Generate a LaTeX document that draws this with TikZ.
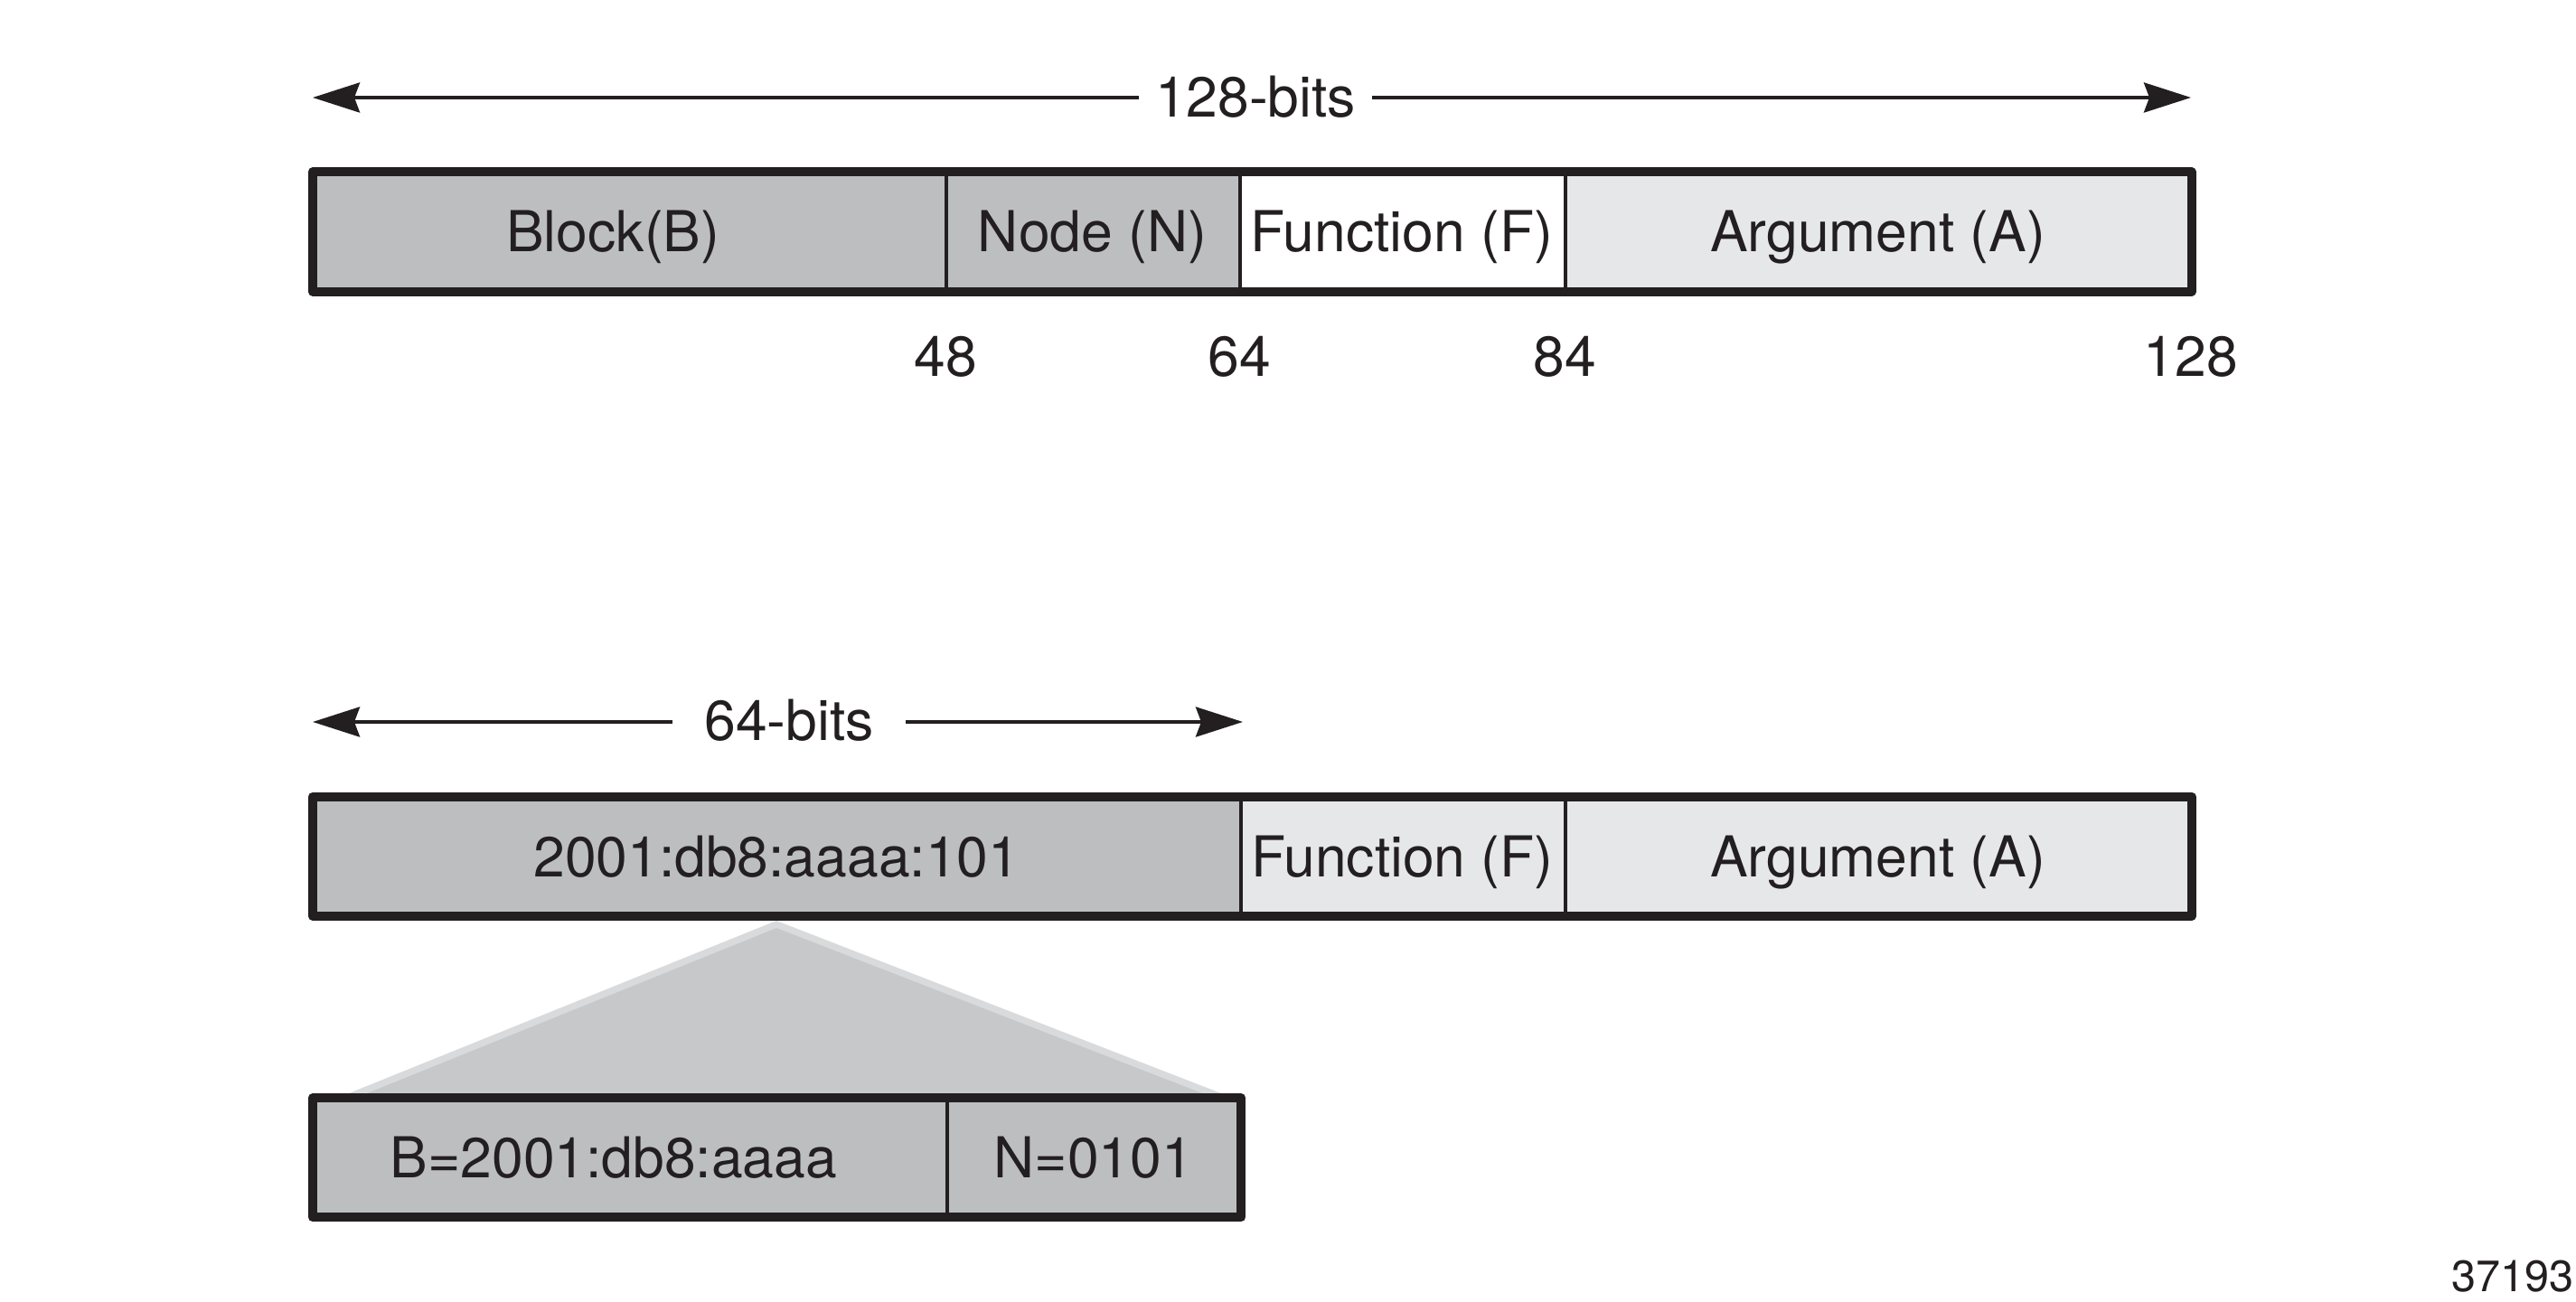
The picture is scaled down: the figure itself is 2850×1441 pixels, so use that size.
\documentclass[tikz,border=0pt]{standalone}
\usepackage{fontspec}
\setmainfont{TeX Gyre Heros}
\usetikzlibrary{arrows.meta}
\definecolor{ink}{HTML}{231F20}
\definecolor{blockgray}{HTML}{BCBEC0}
\definecolor{lightgray}{HTML}{E6E7E8}
\definecolor{trifill}{HTML}{C7C8CA}
\definecolor{triedge}{HTML}{D9DADB}
\tikzset{
  cell/.style={draw=none, inner sep=0pt, minimum height=32.625pt,
    text height=11.2pt, text depth=0pt, text=ink,
    font=\fontsize{15.6}{18}\selectfont},
  frame/.style={draw=ink, line width=2.5pt, line join=round},
  divider/.style={draw=ink, line width=1.1pt},
  num/.style={anchor=base, inner sep=0pt, text=ink, font=\fontsize{15.6}{18}\selectfont},
  dimarrow/.style={draw=ink, line width=1pt,
    {Stealth[length=13pt,width=8.25pt,inset=1.5pt]}-{Stealth[length=13pt,width=8.25pt,inset=1.5pt]}},
  bitlabel/.style={fill=white, inner sep=0pt, minimum width=64.5pt,
    text height=11.2pt, text depth=0pt, text=ink, font=\fontsize{15.6}{18}\selectfont},
  triangle/.style={fill=trifill, draw=triedge, line width=1.85pt, line join=miter}
}
\begin{document}
\begin{tikzpicture}[x=0.25pt, y=-0.25pt]
\useasboundingbox (0,0) rectangle (2850,1441);

% ---------- top: 128 bits ----------
\coordinate (tl) at (346,108);
\coordinate (tr) at (2424,108);
\draw[dimarrow] (tl) -- (tr);
\node[bitlabel] (l128) at (1389,107) {128-bits};

\node[cell, fill=blockgray, minimum width=174.875pt] (B) at (696.25,256.5) {Block(B)\hspace*{9pt}};
\node[cell, fill=blockgray, minimum width=81.25pt] (N) at (1208.5,256.5) {Node (N)};
\node[cell, fill=white, minimum width=90pt] (F) at (1551,256.5) {Function (F)};
\node[cell, fill=lightgray, minimum width=173.25pt] (A) at (2077.5,256.5) {Argument (A)};
\draw[divider] (B.north east) -- (B.south east);
\draw[divider] (N.north east) -- (N.south east);
\draw[divider] (F.north east) -- (F.south east);
\draw[frame] (B.north west) rectangle (A.south east);

\node[num] (n48) at (1046,417) {48};
\node[num] (n64) at (1371,417) {64};
\node[num] (n84) at (1731,417) {84};
\node[num] (n128) at (2424,417) {128};

% ---------- middle: 64 bits ----------
\coordinate (bl) at (346,799);
\coordinate (br) at (1375,799);
\draw[dimarrow] (bl) -- (br);
\node[bitlabel] (l64) at (873,797) {64-bits};

\node[cell, fill=blockgray, minimum width=256.375pt] (P) at (859.25,947.75) {2001:db8:aaaa:101};
\node[cell, fill=lightgray, minimum width=89.75pt] (F2) at (1551.5,947.75) {Function (F)};
\node[cell, fill=lightgray, minimum width=173.25pt] (A2) at (2077.5,947.75) {Argument (A)};
\draw[divider] (P.north east) -- (P.south east);
\draw[divider] (F2.north east) -- (F2.south east);
\draw[frame] (P.north west) rectangle (A2.south east);

% ---------- expansion triangle ----------
\draw[triangle] (386,1214) -- (859,1023) -- (1351,1214) -- cycle;

% ---------- bottom: B and N ----------
\node[cell, fill=blockgray, minimum width=175.125pt] (B3) at (696.75,1281.25) {B=2001:db8:aaaa\hspace*{9pt}};
\node[cell, fill=blockgray, minimum width=81.375pt] (N3) at (1209.75,1281.25) {N=0101};
\draw[divider] (B3.north east) -- (B3.south east);
\draw[frame] (B3.north west) rectangle (N3.south east);

\node[anchor=base east, inner sep=0pt, text=ink, font=\fontsize{12.15}{14}\selectfont] (fig) at (2848,1430) {37193};
\end{tikzpicture}
\end{document}
